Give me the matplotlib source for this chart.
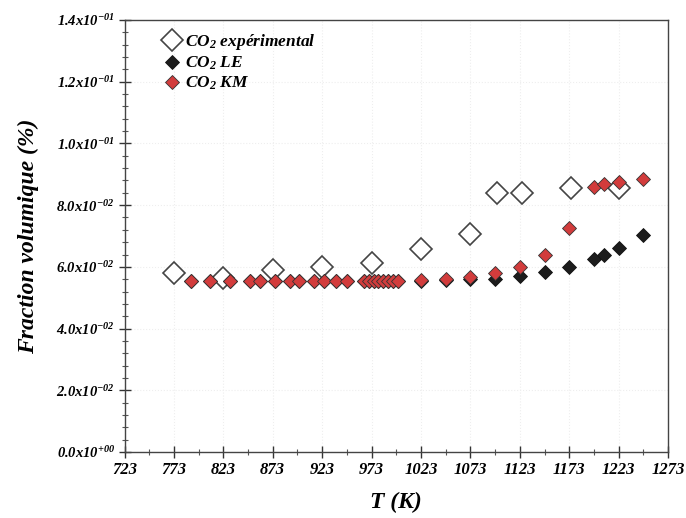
import numpy as np
import matplotlib
matplotlib.use("Agg")
import matplotlib.pyplot as plt
from matplotlib.ticker import FixedLocator, MultipleLocator, FuncFormatter

plt.rcParams['font.family'] = 'Liberation Serif'
plt.rcParams['font.weight'] = 'bold'
plt.rcParams['font.style'] = 'italic'
plt.rcParams['mathtext.fontset'] = 'custom'
plt.rcParams['mathtext.rm'] = 'Liberation Serif:style=italic:weight=bold'
plt.rcParams['mathtext.it'] = 'Liberation Serif:style=italic:weight=bold'
plt.rcParams['mathtext.bf'] = 'Liberation Serif:style=italic:weight=bold'
plt.rcParams['mathtext.default'] = 'it'

# donnees
T_exp = [773, 823, 873, 923, 973, 1023, 1073, 1100, 1125, 1175, 1223]
co2_exp = [0.0579, 0.0563, 0.0590, 0.0601, 0.0611, 0.0657, 0.0706, 0.0840, 0.0840, 0.0854, 0.0857]

T_calc = [790, 810, 830, 850, 860, 875, 890, 900, 915, 925, 937, 948,
          965, 970, 975, 980, 985, 990, 995, 1000, 1023, 1048, 1073, 1098,
          1123, 1148, 1173, 1198, 1208, 1223, 1248]
co2_le = [0.0555, 0.0555, 0.0555, 0.0555, 0.0555, 0.0555, 0.0555, 0.0555,
          0.0555, 0.0555, 0.0555, 0.0555, 0.0555, 0.0555, 0.0555, 0.0555,
          0.0555, 0.0555, 0.0555, 0.0555, 0.0555, 0.0557, 0.0562, 0.0560,
          0.0570, 0.0582, 0.0600, 0.0624, 0.0638, 0.0660, 0.0703]
co2_km = [0.0555, 0.0555, 0.0555, 0.0555, 0.0555, 0.0555, 0.0555, 0.0555,
          0.0555, 0.0555, 0.0555, 0.0555, 0.0555, 0.0555, 0.0555, 0.0555,
          0.0555, 0.0555, 0.0555, 0.0555, 0.0557, 0.0560, 0.0568, 0.0581,
          0.0600, 0.0638, 0.0725, 0.0860, 0.0867, 0.0876, 0.0884]

x_ticks = [723, 773, 823, 873, 923, 973, 1023, 1073, 1123, 1173, 1223, 1273]

fig = plt.figure(figsize=(6.86, 5.18), dpi=100)
ax = fig.add_axes([0.1815, 0.1274, 0.7923, 0.834])

ax.plot(T_exp, co2_exp, 'D', ms=11.5, mfc='white', mec='#444444', mew=1.2,
        ls='none', label=r'$CO_2$ expérimental', zorder=3)
ax.plot(T_calc, co2_le, 'D', ms=6.8, mfc='#1c1c1c', mec='#111111', mew=0.6,
        ls='none', label=r'$CO_2$ LE', zorder=4)
ax.plot(T_calc, co2_km, 'D', ms=6.8, mfc='#d23c3c', mec='#333333', mew=0.6,
        ls='none', label=r'$CO_2$ KM', zorder=5)

ax.set_xlim(723, 1273)
ax.set_ylim(0, 0.14)
ax.xaxis.set_major_locator(FixedLocator(x_ticks))
ax.xaxis.set_minor_locator(FixedLocator([t + 25 for t in x_ticks[:-1]]))
ax.yaxis.set_major_locator(MultipleLocator(0.02))
ax.yaxis.set_minor_locator(MultipleLocator(0.004))


def fmt_y(v, pos):
    if abs(v) < 1e-12:
        return r'$0.0x10^{+00}$'
    e = int(np.floor(np.log10(abs(v)) + 1e-9))
    m = v / 10 ** e
    return r'$%.1fx10^{-%02d}$' % (m, -e)


ax.yaxis.set_major_formatter(FuncFormatter(fmt_y))
ax.tick_params(axis='both', which='major', direction='inout', length=8, width=1,
               color='#333333', top=False, right=False)
ax.tick_params(axis='both', which='minor', direction='inout', length=5, width=0.8,
               color='#555555', top=False, right=False)
ax.tick_params(axis='y', labelsize=10.5, pad=3)
ax.tick_params(axis='x', labelsize=12, pad=3)
for lab in ax.get_xticklabels():
    lab.set_fontweight('bold')
    lab.set_fontstyle('italic')
for s in ax.spines.values():
    s.set_color('#444444')
    s.set_linewidth(1.0)

ax.grid(True, which='major', color='#eeeeee', ls=':', lw=0.8)
ax.set_axisbelow(True)

ax.set_xlabel('T (K)', fontsize=17, fontweight='bold', fontstyle='italic', labelpad=10)
ax.set_ylabel('Fraction volumique (%)', fontsize=17, fontweight='bold',
              fontstyle='italic', labelpad=12)

leg = ax.legend(loc='upper left', bbox_to_anchor=(0.045, 1.0), frameon=False,
                fontsize=12.5, handletextpad=0.2, labelspacing=0.15,
                borderaxespad=0.3, handlelength=1.2)
for t in leg.get_texts():
    t.set_fontweight('bold')
    t.set_fontstyle('italic')

fig.savefig('out.png', dpi=100)
